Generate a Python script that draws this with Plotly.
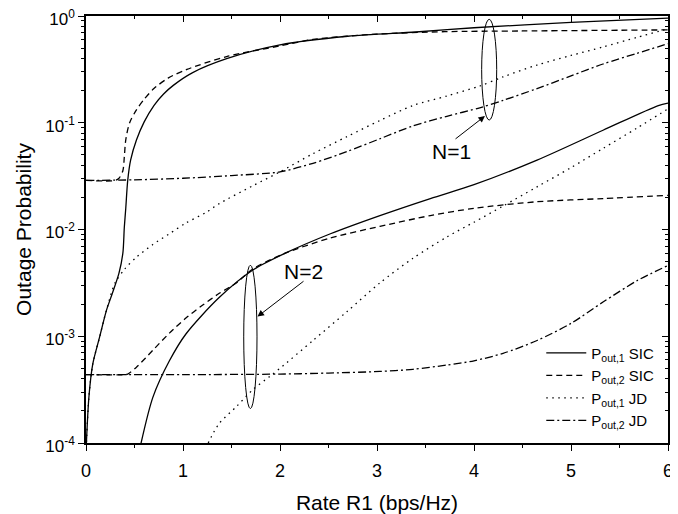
import plotly.graph_objects as go

# N=1 curves
x_sic1_n1 = [0.002, 0.03, 0.07, 0.14, 0.21, 0.27, 0.34, 0.38, 0.395, 0.41, 0.43, 0.46, 0.52,
             0.6, 0.7, 0.8, 0.9, 1.1, 1.45, 2.0, 2.7, 3.4, 4.0, 5.0, 6.0]
p_sic1_n1 = [9e-5, 2.7e-4, 5.5e-4, 9.8e-4, 1.74e-3, 2.5e-3, 3.9e-3, 6.0e-3, 1.05e-2, 1.58e-2,
             2.88e-2, 4.47e-2, 6.9e-2, 0.102, 0.145, 0.186, 0.224, 0.295, 0.398, 0.537, 0.646,
             0.708, 0.776, 0.871, 0.955]

x_sic2_n1 = [0.0, 0.3, 0.34, 0.38, 0.395, 0.41, 0.45, 0.52, 0.6, 0.7, 0.85, 1.04, 1.45, 2.0,
             2.34, 3.0, 3.7, 4.5, 6.0]
p_sic2_n1 = [0.0288, 0.0288, 0.0302, 0.0355, 0.0479, 0.0692, 0.1, 0.132, 0.166, 0.209, 0.263,
             0.316, 0.417, 0.525, 0.603, 0.676, 0.713, 0.724, 0.741]

x_jd1_n1 = [0.002, 0.03, 0.07, 0.14, 0.21, 0.3, 0.4, 0.52, 0.69, 0.86, 1.03, 1.24, 1.37, 1.72,
            2.0, 2.34, 2.69, 3.03, 3.37, 3.72, 4.06, 4.3, 4.65, 5.0, 5.33, 5.68, 6.0]
p_jd1_n1 = [8.9e-5, 2.69e-4, 5.5e-4, 9.8e-4, 1.74e-3, 3.16e-3, 4.27e-3, 5.5e-3, 7.24e-3,
            9.12e-3, 1.15e-2, 1.45e-2, 1.74e-2, 2.57e-2, 3.47e-2, 5.13e-2, 7.41e-2, 0.105,
            0.145, 0.178, 0.221, 0.269, 0.347, 0.427, 0.513, 0.631, 0.759]

x_jd2_n1 = [0.0, 0.5, 1.0, 1.5, 2.0, 2.34, 2.69, 3.03, 3.37, 3.72, 4.06, 4.3, 4.65, 5.0, 5.33,
            5.68, 6.0]
p_jd2_n1 = [0.0288, 0.0292, 0.0302, 0.032, 0.0347, 0.0417, 0.0537, 0.0708, 0.0933, 0.115,
            0.138, 0.162, 0.209, 0.275, 0.355, 0.447, 0.55]

# N=2 curves
x_sic1_n2 = [0.56, 0.69, 0.86, 1.03, 1.37, 1.72, 2.06, 2.52, 3.03, 3.55, 4.0, 4.65, 5.33, 5.9, 6.0]
p_sic1_n2 = [9.3e-5, 2.69e-4, 5.89e-4, 1.05e-3, 2.29e-3, 4.17e-3, 6.03e-3, 9.12e-3, 1.35e-2,
             1.95e-2, 2.63e-2, 4.47e-2, 8.51e-2, 0.145, 0.153]

x_sic2_n2 = [0.0, 0.4, 0.43, 0.52, 0.69, 0.86, 1.03, 1.2, 1.37, 1.55, 1.72, 2.06, 2.52, 3.03,
             3.55, 4.0, 4.65, 5.33, 6.0]
p_sic2_n2 = [4.37e-4, 4.37e-4, 4.42e-4, 5.13e-4, 7.41e-4, 1.07e-3, 1.48e-3, 1.95e-3, 2.51e-3,
             3.16e-3, 4.27e-3, 6.03e-3, 8.32e-3, 1.07e-2, 1.35e-2, 1.58e-2, 1.82e-2, 1.95e-2,
             2.09e-2]

x_jd1_n2 = [1.26, 1.37, 1.55, 1.72, 1.89, 2.0, 2.34, 2.69, 3.03, 3.37, 3.72, 4.0, 4.3, 4.65,
            5.0, 5.33, 5.68, 6.0]
p_jd1_n2 = [1.0e-4, 1.51e-4, 2.19e-4, 3.16e-4, 4.17e-4, 5.01e-4, 9.12e-4, 1.70e-3, 3.16e-3,
            5.37e-3, 8.51e-3, 1.17e-2, 1.66e-2, 2.51e-2, 3.80e-2, 5.75e-2, 8.91e-2, 0.135]

x_jd2_n2 = [0.0, 1.0, 2.0, 2.5, 3.03, 3.37, 3.72, 4.0, 4.3, 4.65, 5.0, 5.33, 5.68, 6.0]
p_jd2_n2 = [4.37e-4, 4.37e-4, 4.42e-4, 4.52e-4, 4.68e-4, 4.9e-4, 5.37e-4, 5.89e-4, 6.92e-4,
            9.12e-4, 1.32e-3, 2.09e-3, 3.31e-3, 4.6e-3]

y_tickvals = [1e-4, 1e-3, 1e-2, 1e-1, 1]
y_ticktext = ["10<sup>-4</sup>", "10<sup>-3</sup>", "10<sup>-2</sup>", "10<sup>-1</sup>", "10<sup>0</sup>"]

legend_names = ["P<sub>out,1</sub> SIC", "P<sub>out,2</sub> SIC",
                "P<sub>out,1</sub> JD", "P<sub>out,2</sub> JD"]

FONT = "Liberation Sans, Arial, sans-serif"
dashes = ["solid", "6px,4px", "1.5px,4.5px", "8px,3px,2px,3px"]

fig = go.Figure()

series = [
    (x_sic1_n1, p_sic1_n1, x_sic1_n2, p_sic1_n2),
    (x_sic2_n1, p_sic2_n1, x_sic2_n2, p_sic2_n2),
    (x_jd1_n1, p_jd1_n1, x_jd1_n2, p_jd1_n2),
    (x_jd2_n1, p_jd2_n1, x_jd2_n2, p_jd2_n2),
]
for i, (xa, ya, xb, yb) in enumerate(series):
    line = dict(color="black", width=1.3, dash=dashes[i], shape="spline", smoothing=0.8)
    fig.add_trace(go.Scatter(x=xa, y=ya, mode="lines", line=line, name=legend_names[i],
                             legendgroup=str(i)))
    fig.add_trace(go.Scatter(x=xb, y=yb, mode="lines", line=line, name=legend_names[i],
                             legendgroup=str(i), showlegend=False))

# dummy trace so the mirrored top/right axes get drawn
fig.add_trace(go.Scatter(x=[], y=[], xaxis="x2", yaxis="y2", showlegend=False))

# ellipses around the curve groups
fig.add_shape(type="circle", xref="x", yref="y", x0=4.079, x1=4.234, y0=0.106, y1=0.931,
              line=dict(color="black", width=1))
fig.add_shape(type="circle", xref="x", yref="y", x0=1.626, x1=1.763, y0=2.1e-4, y1=4.63e-3,
              line=dict(color="black", width=1))

# labels + arrows (annotation y is log10 on a log axis)
fig.add_annotation(x=3.773, y=-1.265, text="N=1", showarrow=False,
                   font=dict(family=FONT, size=21, color="black"))
fig.add_annotation(x=4.113, y=-0.937, ax=3.794, ay=-1.162, axref="x", ayref="y", text="",
                   showarrow=True, arrowhead=2, arrowsize=1.3, arrowwidth=1, arrowcolor="black")
fig.add_annotation(x=2.247, y=-2.397, text="N=2", showarrow=False,
                   font=dict(family=FONT, size=21, color="black"))
fig.add_annotation(x=1.768, y=-2.816, ax=2.258, ay=-2.474, axref="x", ayref="y", text="",
                   showarrow=True, arrowhead=2, arrowsize=1.3, arrowwidth=1, arrowcolor="black")

# the page body adds an 8px offset, so the figure is 8px smaller than the window
fig.update_layout(
    width=670, height=506,
    margin=dict(l=78, r=10, t=8, b=71),
    paper_bgcolor="white", plot_bgcolor="white",
    font=dict(family=FONT, size=18, color="black"),
    showlegend=True,
    legend=dict(x=0.985, y=0.015, xanchor="right", yanchor="bottom", itemwidth=40,
                bgcolor="rgba(0,0,0,0)", font=dict(size=15), tracegroupgap=0),
    xaxis=dict(range=[0, 6], dtick=1, showgrid=False, zeroline=False, automargin=False,
               showline=True, linecolor="black", linewidth=1.5,
               ticks="outside", ticklen=6, tickwidth=1.2, tickcolor="black",
               ticklabelstandoff=5,
               minor=dict(dtick=0.5, ticks="outside", ticklen=3, tickcolor="black"),
               title=dict(text="Rate R1 (bps/Hz)", font=dict(size=21), standoff=17)),
    yaxis=dict(type="log", range=[-4, 0], showgrid=False, zeroline=False, automargin=False,
               tickvals=y_tickvals, ticktext=y_ticktext, ticklabeloverflow="allow",
               ticklabelshift=3, tickfont=dict(size=17),
               showline=True, linecolor="black", linewidth=1.5,
               ticks="outside", ticklen=6, tickwidth=1.2, tickcolor="black",
               minor=dict(dtick="D1", ticks="outside", ticklen=3, tickcolor="black"),
               title=dict(text="Outage Probability", font=dict(size=21), standoff=8)),
    xaxis2=dict(overlaying="x", side="top", matches="x", range=[0, 6], dtick=1,
                showgrid=False, zeroline=False, showticklabels=False, automargin=False,
                showline=True, linecolor="black", linewidth=1.5,
                ticks="inside", ticklen=6, tickwidth=1.2, tickcolor="black",
                minor=dict(dtick=0.5, ticks="inside", ticklen=3, tickcolor="black")),
    yaxis2=dict(overlaying="y", side="right", matches="y", type="log", range=[-4, 0],
                tickvals=y_tickvals, showgrid=False, zeroline=False, showticklabels=False,
                automargin=False,
                showline=True, linecolor="black", linewidth=1.5,
                ticks="inside", ticklen=6, tickwidth=1.2, tickcolor="black",
                minor=dict(dtick="D1", ticks="inside", ticklen=3, tickcolor="black")),
)

fig.write_html("out.html")
